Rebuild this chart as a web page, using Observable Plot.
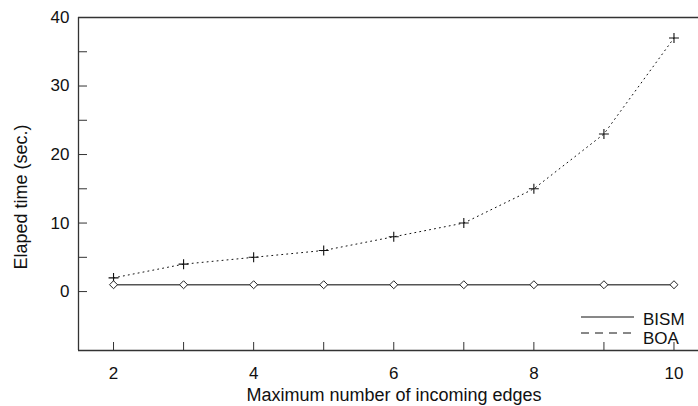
<!DOCTYPE html>
<html>
<head>
<meta charset="utf-8">
<script src="https://cdn.jsdelivr.net/npm/d3@7"></script>
<script src="https://cdn.jsdelivr.net/npm/@observablehq/plot@0.6"></script>
<style>
  html, body { margin: 0; padding: 0; background: #fff; }
  #chart { width: 698px; height: 406px; }
  svg { font-family: "Liberation Sans", Arial, sans-serif; }
</style>
</head>
<body>
<div id="chart"></div>
<script>
// Maximum number of incoming edges
const edges = [2, 3, 4, 5, 6, 7, 8, 9, 10];
// Elapsed time (sec.) per algorithm
const bism = [1, 1, 1, 1, 1, 1, 1, 1, 1];
const boa = [2, 4, 5, 6, 8, 10, 15, 23, 37];

const xTicks = [2, 3, 4, 5, 6, 7, 8, 9, 10];
const xLabels = [2, 4, 6, 8, 10];
const yTicks = [0, 5, 10, 15, 20, 25, 30, 35, 40];
const yLabels = [0, 10, 20, 30, 40];
const xDomain = [1.5, 10.35];
const yDomain = [-8.6, 40];

const W = 698, H = 406;
const mL = 78, mT = 17, mB = 56, mR = 0;
const frameW = W - mL - mR, frameH = H - mT - mB;

const rows = edges.map((e, i) => ({e, bism: bism[i], boa: boa[i]}));
const axisColor = "#333";
const ink = "#111";
const font = "Liberation Sans, Arial, sans-serif";

const chart = Plot.plot({
  width: W,
  height: H,
  marginLeft: mL,
  marginTop: mT,
  marginBottom: mB,
  marginRight: mR,
  style: {fontFamily: font, background: "#fff"},
  x: {domain: xDomain, axis: null},
  y: {domain: yDomain, axis: null},
  marks: [
    // frame: left, top and bottom edges
    Plot.ruleX([xDomain[0]], {stroke: axisColor, strokeWidth: 1.3}),
    Plot.ruleY([yDomain[1]], {stroke: axisColor, strokeWidth: 1.3}),
    Plot.ruleY([yDomain[0]], {stroke: axisColor, strokeWidth: 1.3}),
    // inward ticks
    Plot.tickX(xTicks, {x: d => d, insetTop: frameH - 8, stroke: axisColor}),
    Plot.tickY(yTicks, {y: d => d, insetRight: frameW - 9, stroke: axisColor}),
    // tick labels
    Plot.text(xLabels, {x: d => d, frameAnchor: "bottom", dy: 28, text: d => String(d), fill: ink, fontSize: 17}),
    Plot.text(yLabels, {y: d => d, frameAnchor: "left", dx: -9, textAnchor: "end", text: d => String(d), fill: ink, fontSize: 17}),
    // BOA: dotted line with plus markers
    Plot.line(rows, {x: "e", y: "boa", stroke: ink, strokeWidth: 1, strokeDasharray: "1,4"}),
    Plot.dot(rows, {x: "e", y: "boa", symbol: "plus", r: 3.3, stroke: ink, strokeWidth: 1.1}),
    // BISM: solid line with diamond markers
    Plot.line(rows, {x: "e", y: "bism", stroke: "#555", strokeWidth: 1.5}),
    Plot.dot(rows, {x: "e", y: "bism", symbol: "diamond2", r: 3.6, stroke: "#222", fill: "#fff", strokeWidth: 1})
  ]
});

const svg = d3.select(chart);
// axis titles
svg.append("text")
  .attr("x", 394).attr("y", 401)
  .attr("text-anchor", "middle")
  .attr("font-family", font)
  .attr("font-size", 18).attr("fill", ink)
  .text("Maximum number of incoming edges");
svg.append("text")
  .attr("transform", "translate(27,197) rotate(-90)")
  .attr("text-anchor", "middle")
  .attr("font-family", font)
  .attr("font-size", 18).attr("fill", ink)
  .text("Elaped time (sec.)");

// legend
const legend = [
  {name: "BISM", dash: null, y: 317, base: 325},
  {name: "BOA", dash: "8,6", y: 333, base: 344}
];
const lg = svg.append("g");
legend.forEach(d => {
  lg.append("line")
    .attr("x1", 581).attr("x2", 634).attr("y1", d.y).attr("y2", d.y)
    .attr("stroke", ink).attr("stroke-width", 1)
    .attr("stroke-dasharray", d.dash);
  lg.append("text")
    .attr("x", 643).attr("y", d.base)
    .attr("text-anchor", "start")
    .attr("font-family", font)
    .attr("font-size", 17).attr("fill", ink)
    .text(d.name);
});

document.getElementById("chart").appendChild(chart);
</script>
</body>
</html>
